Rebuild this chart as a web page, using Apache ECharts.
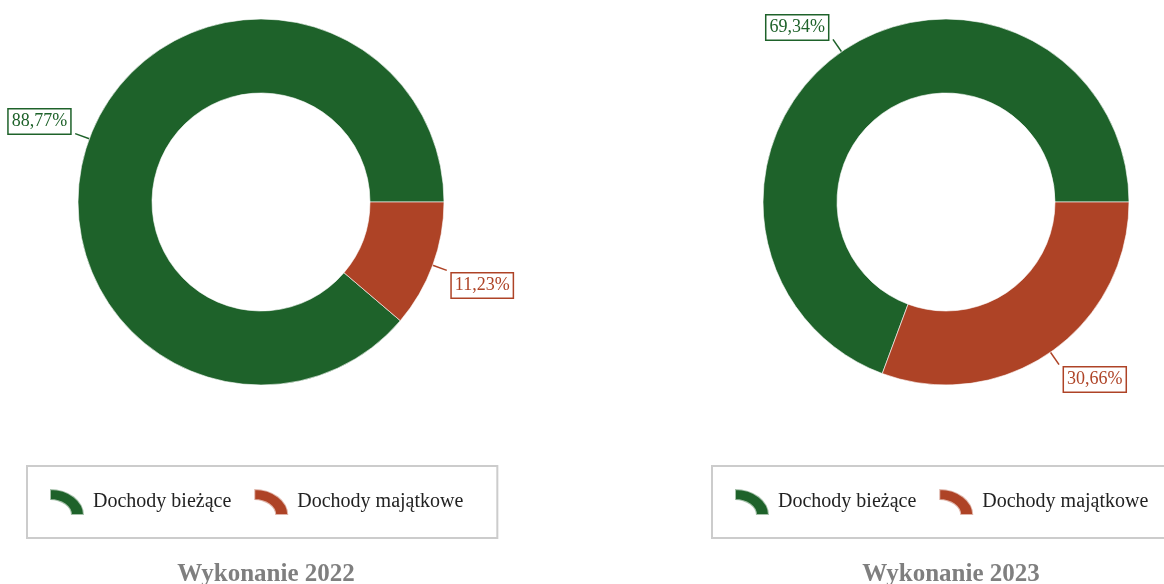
<!DOCTYPE html>
<html>
<head>
<meta charset="utf-8">
<script src="https://cdn.jsdelivr.net/npm/echarts@6/dist/echarts.min.js"></script>
<style>
  html, body { margin: 0; padding: 0; background: #fff; }
  #chart { width: 1164px; height: 584px; }
</style>
</head>
<body>
<div id="chart"></div>
<script>
const categories = ["Dochody bieżące", "Dochody majątkowe"];
const values2022 = [88.77, 11.23];
const values2023 = [69.34, 30.66];
const chartTitles = ["Wykonanie 2022", "Wykonanie 2023"];

const colors = ["#1e622a", "#ae4326"];
const serif = "'Liberation Serif', 'Times New Roman', serif";
// quarter ring shaped legend marker, 34x26 box
const arcIcon = "path://M0,0 A34,26 0 0 1 34,26 L21,26 A21,15 0 0 0 0,11 Z";

const chart = echarts.init(document.getElementById("chart"));

// one pie per year, label box takes the slice colour
const makePie = (vals, cx) => ({
  type: "pie",
  center: [cx, 202],
  radius: [109, 183],
  startAngle: 0,
  clockwise: false,
  avoidLabelOverlap: false,
  itemStyle: { borderColor: "rgba(255,255,255,0.6)", borderWidth: 1 },
  labelLine: { length: 15, length2: 0, lineStyle: { width: 1.5 } },
  labelLayout: (p) => ({ dy: p.dataIndex === 0 ? -12 : 15 }),
  emphasis: { scale: false },
  data: vals.map((v, i) => ({
    name: categories[i],
    value: v,
    itemStyle: { color: colors[i] },
    label: {
      show: true,
      formatter: v.toFixed(2).replace(".", ",") + "%",
      color: colors[i],
      fontFamily: serif,
      fontSize: 18,
      backgroundColor: "#fff",
      borderColor: colors[i],
      borderWidth: 1.5,
      padding: [4, 3, 2, 3]
    },
    labelLine: { lineStyle: { color: colors[i] } }
  }))
});

const makeLegend = (left) => ({
  left: left,
  top: 466,
  width: 600,
  orient: "horizontal",
  data: categories,
  icon: arcIcon,
  itemWidth: 34,
  itemHeight: 26,
  itemGap: 22,
  padding: [22, 34, 22, 22],
  borderColor: "#cccccc",
  borderWidth: 2,
  selectedMode: false,
  textStyle: { fontFamily: serif, fontSize: 20, color: "#222", padding: [0, 0, 0, 4] }
});

const makeTitle = (text, cx) => ({
  text: text,
  left: cx,
  top: 557,
  textAlign: "center",
  textStyle: { fontFamily: serif, fontSize: 25, fontWeight: "bold", color: "#7f7f7f" }
});

chart.setOption({
  animation: false,
  title: [makeTitle(chartTitles[0], 261), makeTitle(chartTitles[1], 946)],
  legend: [makeLegend(27), makeLegend(712)],
  series: [makePie(values2022, 261), makePie(values2023, 946)]
});

window.addEventListener("resize", () => chart.resize());
</script>
</body>
</html>
